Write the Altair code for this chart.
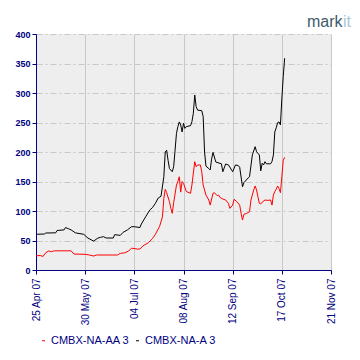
import altair as alt
import pandas as pd

# CMBX-NA-A 3 (black)
dates_a = ["2007-04-25","2007-05-01","2007-05-02","2007-05-09","2007-05-10","2007-05-15","2007-05-16",
           "2007-05-18","2007-05-20","2007-05-23","2007-05-29","2007-06-01","2007-06-05","2007-06-08",
           "2007-06-10","2007-06-12","2007-06-14","2007-06-19","2007-06-20","2007-06-24","2007-06-26",
           "2007-06-29","2007-07-02","2007-07-04","2007-07-08","2007-07-09","2007-07-12","2007-07-15",
           "2007-07-17","2007-07-19","2007-07-21","2007-07-23","2007-07-25","2007-07-26","2007-07-27",
           "2007-07-28","2007-07-29","2007-07-31","2007-08-01","2007-08-02","2007-08-03","2007-08-04",
           "2007-08-05","2007-08-06","2007-08-07","2007-08-08","2007-08-09","2007-08-10","2007-08-13",
           "2007-08-14","2007-08-15","2007-08-16","2007-08-17","2007-08-18","2007-08-21","2007-08-22",
           "2007-08-23","2007-08-24","2007-08-26","2007-08-27","2007-08-28","2007-08-29","2007-08-31",
           "2007-09-04","2007-09-05","2007-09-07","2007-09-09","2007-09-12","2007-09-14","2007-09-16",
           "2007-09-17","2007-09-19","2007-09-20","2007-09-23","2007-09-24","2007-09-26","2007-09-28",
           "2007-09-29","2007-10-01","2007-10-02","2007-10-03","2007-10-04","2007-10-05","2007-10-06",
           "2007-10-08","2007-10-09","2007-10-10","2007-10-11","2007-10-12","2007-10-13","2007-10-14",
           "2007-10-15","2007-10-16","2007-10-17","2007-10-18","2007-10-19"]
vals_a = [60.5, 61, 62.7, 63, 67, 68, 72,
          70, 68, 63, 60.5, 54, 49, 54,
          55.4, 56.5, 54.2, 54.2, 59.9, 58.7, 63.8,
          67.8, 73.4, 73.4, 72, 78, 90, 101.7,
          106, 113, 122, 125, 158, 200, 203,
          186, 172, 166.6, 175, 203, 231.7, 243,
          251, 245.8, 234, 248.6, 240, 243, 244.6,
          251.4, 265.6, 296.6, 277, 271, 270, 260,
          200, 176, 172, 169.5, 188, 199.4, 183,
          180, 166.6, 179.7, 178, 166.6, 178, 177,
          174, 141, 148, 156, 158, 195, 209,
          200.5, 195, 168, 180.8, 178, 183.6, 180,
          180, 180, 184, 195, 234, 241, 249.7,
          251, 246, 290, 328, 359]

# CMBX-NA-AA 3 (red)
dates_aa = ["2007-04-25","2007-04-28","2007-04-30","2007-05-02","2007-05-04","2007-05-06","2007-05-08",
            "2007-05-20","2007-05-22","2007-05-30","2007-06-02","2007-06-05","2007-06-07","2007-06-22",
            "2007-06-24","2007-06-27","2007-06-30","2007-07-02","2007-07-06","2007-07-08","2007-07-10",
            "2007-07-14","2007-07-16","2007-07-17","2007-07-19","2007-07-22","2007-07-24","2007-07-25",
            "2007-07-26","2007-07-27","2007-07-29","2007-07-30","2007-07-31","2007-08-01","2007-08-03",
            "2007-08-04","2007-08-05","2007-08-06","2007-08-07","2007-08-08","2007-08-10","2007-08-13",
            "2007-08-14","2007-08-16","2007-08-17","2007-08-18","2007-08-20","2007-08-21","2007-08-22",
            "2007-08-24","2007-08-26","2007-08-27","2007-08-29","2007-08-30","2007-09-01","2007-09-02",
            "2007-09-03","2007-09-05","2007-09-07","2007-09-09","2007-09-10","2007-09-12","2007-09-13",
            "2007-09-15","2007-09-17","2007-09-18","2007-09-19","2007-09-20","2007-09-22","2007-09-24",
            "2007-09-25","2007-09-27","2007-09-28","2007-09-29","2007-09-30","2007-10-01","2007-10-02",
            "2007-10-03","2007-10-05","2007-10-07","2007-10-09","2007-10-10","2007-10-11","2007-10-12",
            "2007-10-13","2007-10-14","2007-10-15","2007-10-16","2007-10-17","2007-10-18","2007-10-19"]
vals_aa = [24, 24.6, 23, 29.4, 32.2, 31, 32.5,
           32.5, 27, 26.6, 25.4, 23.7, 25.4, 25.4,
           28.2, 29, 32.2, 37, 35.5, 35.5, 40.7,
           46.3, 51, 53.7, 60.5, 74, 90, 121.5,
           136.7, 131, 115.8, 104.5, 96, 114, 144,
           150, 158, 132, 150, 147, 133, 130,
           144, 183.6, 175, 178, 178, 166.6, 144,
           127, 118.6, 110, 130, 131, 126, 127,
           123, 120.3, 118.6, 113, 104.5, 110, 119.8,
           115.8, 110, 96, 84.7, 94.4, 96, 98.8,
           118.6, 135.6, 142.4, 135.6, 124, 113, 112,
           115, 118.6, 118, 118.6, 110, 127, 133,
           137, 142.4, 138, 131, 158, 186, 191]

series_names = ["CMBX-NA-AA 3", "CMBX-NA-A 3"]
series_colors = ["#ff0000", "#000000"]
y_ticks = [0, 50, 100, 150, 200, 250, 300, 350, 400]
x_tick_dates = [(2007, 4, 25), (2007, 5, 30), (2007, 7, 4), (2007, 8, 8),
                (2007, 9, 12), (2007, 10, 17), (2007, 11, 21)]

df = pd.concat([
    pd.DataFrame({"date": dates_aa, "value": vals_aa, "series": series_names[0]}),
    pd.DataFrame({"date": dates_a, "value": vals_a, "series": series_names[1]}),
])

navy = "#000080"
x_vals = [alt.DateTime(year=y, month=m, date=d, utc=True) for (y, m, d) in x_tick_dates]

lines = alt.Chart(df).mark_line(strokeWidth=1, interpolate="linear").encode(
    x=alt.X("date:T",
            scale=alt.Scale(type="utc", domain=[x_vals[0], x_vals[-1]]),
            axis=alt.Axis(values=x_vals, format="%d %b %y", labelAngle=270,
                          labelAlign="right", labelBaseline="middle",
                          labelFont="Liberation Sans", labelFontSize=10, labelColor=navy,
                          labelFlush=False, labelOverlap=False, labelPadding=4,
                          tickSize=4, tickColor=navy, domainColor=navy,
                          grid=True, gridColor="#c8c8c8", gridWidth=1, title=None)),
    y=alt.Y("value:Q",
            scale=alt.Scale(domain=[0, 400], nice=False),
            axis=alt.Axis(values=y_ticks, labelFont="Liberation Sans", labelFontSize=9,
                          labelFontWeight="bold", labelColor=navy, labelPadding=2,
                          labelFlush=False, labelOverlap=False,
                          tickSize=4, tickColor=navy, domainColor=navy,
                          grid=True, gridColor="#c8c8c8", gridDash=[6, 3, 2, 3],
                          gridWidth=1, title=None)),
    color=alt.Color("series:N",
                    scale=alt.Scale(domain=series_names, range=series_colors),
                    legend=alt.Legend(orient="none", legendX=2, legendY=301,
                                      direction="horizontal", title=None,
                                      symbolType="stroke", symbolSize=9,
                                      symbolStrokeWidth=1, labelOffset=2,
                                      columnPadding=2,
                                      labelFont="Liberation Sans", labelFontSize=11,
                                      labelColor=navy)),
)

logo1 = alt.Chart(pd.DataFrame({"t": ["mark"]})).mark_text(
    align="left", baseline="alphabetic", font="Liberation Sans", fontSize=16, color="#3d5b6b"
).encode(text="t:N", x=alt.value(271), y=alt.value(-7.5))
logo2 = alt.Chart(pd.DataFrame({"t": ["it"]})).mark_text(
    align="left", baseline="alphabetic", font="Liberation Sans", fontSize=16, color="#a9c7d6"
).encode(text="t:N", x=alt.value(307), y=alt.value(-7.5))

chart = alt.layer(lines, logo1, logo2).properties(
    width=295, height=236,
    autosize=alt.AutoSizeParams(type="none"),
    padding={"left": 28, "top": 26, "right": 21, "bottom": 82},
).configure_view(fill="#eeeeee", strokeWidth=0)

chart.save("out.html", embed_options={"renderer": "svg", "actions": False})
